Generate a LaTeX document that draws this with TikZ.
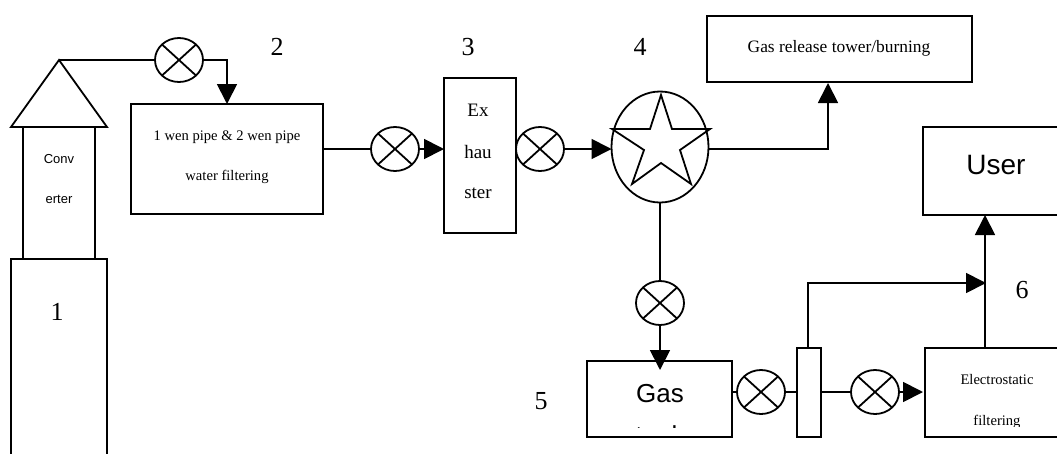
\documentclass[tikz,border=0pt]{standalone}
\usepackage{fontspec}
\setmainfont{Liberation Serif}
\setsansfont{Liberation Sans}
\usetikzlibrary{arrows.meta,shapes.geometric}
\tikzset{
  box/.style={draw,rectangle,inner sep=0pt,outer sep=0pt,anchor=north west},
  valve/.style={draw,ellipse,inner sep=0pt,outer sep=0pt,minimum width=48pt,minimum height=44pt,
    path picture={
      \draw ([xshift=-17pt,yshift=15.5pt]path picture bounding box.center)--([xshift=17pt,yshift=-15.5pt]path picture bounding box.center);
      \draw ([xshift=-17pt,yshift=-15.5pt]path picture bounding box.center)--([xshift=17pt,yshift=15.5pt]path picture bounding box.center);
    }},
  num/.style={font=\fontsize{26}{26}\selectfont,inner sep=0pt},
  ser/.style={font=\fontsize{14.6}{15}\selectfont,inner sep=0pt},
  serb/.style={font=\fontsize{17.4}{18}\selectfont,inner sep=0pt},
  sanss/.style={font=\sffamily\fontsize{13}{13}\selectfont,inner sep=0pt},
  sansb/.style={font=\sffamily\fontsize{26}{26}\selectfont,inner sep=0pt},
  sansu/.style={font=\sffamily\fontsize{28}{28}\selectfont,inner sep=0pt},
  exfont/.style={font=\fontsize{19}{19}\selectfont,inner sep=0pt},
  flow/.style={-{Triangle[length=20pt,width=20pt]}},
}
\begin{document}
\begin{tikzpicture}[x=1pt,y=-1pt,line width=1.8pt]
\useasboundingbox (0,0) rectangle (1057,453);
\clip (0,0) rectangle (1057,453);
% converter
\node[box,minimum width=96pt,minimum height=210pt] (furnace) at (11,259) {};
\node[box,minimum width=72pt,minimum height=132pt] (conv) at (23,127) {};
\node[draw,isosceles triangle,isosceles triangle apex angle=71.2,isosceles triangle stretches,shape border rotate=90,inner sep=0pt,outer sep=0pt,minimum height=67pt,minimum width=96pt,anchor=apex] (hood) at (59,60) {};
\node[sanss] (c1) at (59,159) {Conv};
\node[sanss] (c2) at (59,199) {erter};
\node[num] (n1) at (57,312) {1};
% boxes
\node[box,minimum width=192pt,minimum height=110pt] (wen) at (131,104) {};
\node[ser] (w1) at (227,137) {1 wen pipe \& 2 wen pipe};
\node[ser] (w2) at (227,177) {water filtering};
\node[box,minimum width=72pt,minimum height=155pt] (ex) at (444,78) {};
\node[exfont] (e1) at (478,110) {Ex};
\node[exfont] (e2) at (478,152) {hau};
\node[exfont] (e3) at (478,193) {ster};
\node[box,minimum width=265pt,minimum height=66pt] (rel) at (707,16) {};
\node[serb] (r1) at (839,48) {Gas release tower/burning};
\node[box,minimum width=140pt,minimum height=88pt] (user) at (923,127) {};
\node[sansu] (u1) at (996,165) {User};
\node[box,minimum width=145pt,minimum height=76pt] (tank) at (587,361) {};
\node[box,minimum width=24pt,minimum height=89pt] (sep) at (797,348) {};
\node[box,minimum width=140pt,minimum height=89pt] (elec) at (925,348) {};
\node[sansb] (g1) at (660,394) {Gas};
\begin{scope}
  \clip (588,362) rectangle (731,427);
  \node[sansb,anchor=base] (g2) at (660,444) {tank};
\end{scope}
\node[ser] (el1) at (997,379) {Electrostatic};
\begin{scope}
  \clip (926,349) rectangle (1057,426);
  \node[ser] (el2) at (997,422) {filtering};
\end{scope}
% tower
\node[draw,ellipse,inner sep=0pt,outer sep=0pt,minimum width=97pt,minimum height=111pt] (tower) at (660,147) {};
\draw (661,95)--(672,129)--(710,129)--(680,150)--(691,184)--(661,163)--(632,184)--(644,150)--(612,129)--(650,129)--cycle;
% valves
\node[valve] (v1) at (179,60) {};
\node[valve] (v2) at (395,149) {};
\node[valve] (v3) at (540,149) {};
\node[valve] (v4) at (660,303) {};
\node[valve] (v5) at (761,392) {};
\node[valve] (v6) at (875,392) {};
% numbers
\node[num] (n2) at (277,47) {2};
\node[num] (n3) at (468,47) {3};
\node[num] (n4) at (640,47) {4};
\node[num] (n5) at (541,401) {5};
\node[num] (n6) at (1022,290) {6};
% free ends
\coordinate (wenin) at (227,104);
\coordinate (relin) at (828,83);
\coordinate (tankin) at (660,370);
\coordinate (elecin) at (923,392);
\coordinate (sepout) at (808,348);
\coordinate (bend) at (808,283);
\coordinate (join) at (986,283);
\coordinate (elecout) at (985,348);
\coordinate (userin) at (985,215);
% connectors
\draw (hood.apex)--(v1.west);
\draw[flow] (v1.east)-|(wenin);
\draw (wen.east |- v2)--(v2.west);
\draw[flow] (v2.east)--(ex.west |- v2);
\draw (ex.east |- v3)--(v3.west);
\draw[flow] (v3.east)--(tower.west |- v3);
\draw[flow] (tower.east |- v3)-|(relin);
\draw (tower.south)--(v4.north);
\draw[flow] (v4.south)--(tankin);
\draw (tank.east |- v5)--(v5.west);
\draw (v5.east)--(sep.west |- v5);
\draw (sep.east |- v6)--(v6.west);
\draw[flow] (v6.east)--(elecin);
\draw[flow] (sepout)--(bend)--(join);
\draw[flow] (elecout)--(userin);
\end{tikzpicture}
\end{document}
